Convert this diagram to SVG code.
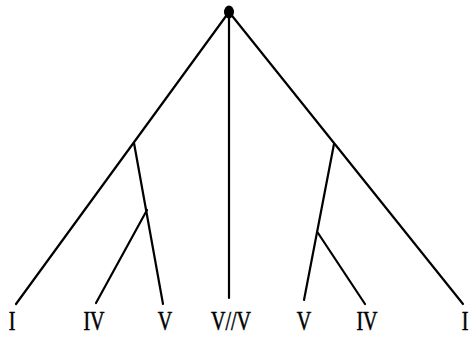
<svg xmlns="http://www.w3.org/2000/svg" width="469" height="337" viewBox="0 0 469 337">
<style>
.e{stroke:#000;stroke-width:2.2;fill:none;stroke-linecap:round}
.t{font-family:"Liberation Serif",serif;font-size:20px;fill:#000;stroke:#000;stroke-width:0.4;text-anchor:middle}
</style>
<rect width="469" height="337" fill="#fff"/>
<g id="connectors">
<line class="e" x1="229" y1="12" x2="16" y2="304"/>
<line class="e" x1="229" y1="12" x2="229" y2="298"/>
<line class="e" x1="229" y1="12" x2="463" y2="304"/>
<line class="e" x1="134" y1="143" x2="163" y2="304"/>
<line class="e" x1="147" y1="210" x2="96" y2="303"/>
<line class="e" x1="334" y1="144" x2="304" y2="300"/>
<line class="e" x1="318" y1="233" x2="365" y2="304"/>
</g>
<g id="root"><ellipse cx="229" cy="12" rx="5" ry="6.5" fill="#000"/></g>
<g id="n1"><text class="t" transform="translate(12,330) scale(1,1.36)">I</text></g>
<g id="n2"><text class="t" transform="translate(94,330) scale(1,1.36)">IV</text></g>
<g id="n3"><text class="t" transform="translate(165,330) scale(1,1.36)">V</text></g>
<g id="n4"><text class="t" transform="translate(231,330) scale(1,1.36)">V//V</text></g>
<g id="n5"><text class="t" transform="translate(304,330) scale(1,1.36)">V</text></g>
<g id="n6"><text class="t" transform="translate(367,330) scale(1,1.36)">IV</text></g>
<g id="n7"><text class="t" transform="translate(465,330) scale(1,1.36)">I</text></g>
</svg>
